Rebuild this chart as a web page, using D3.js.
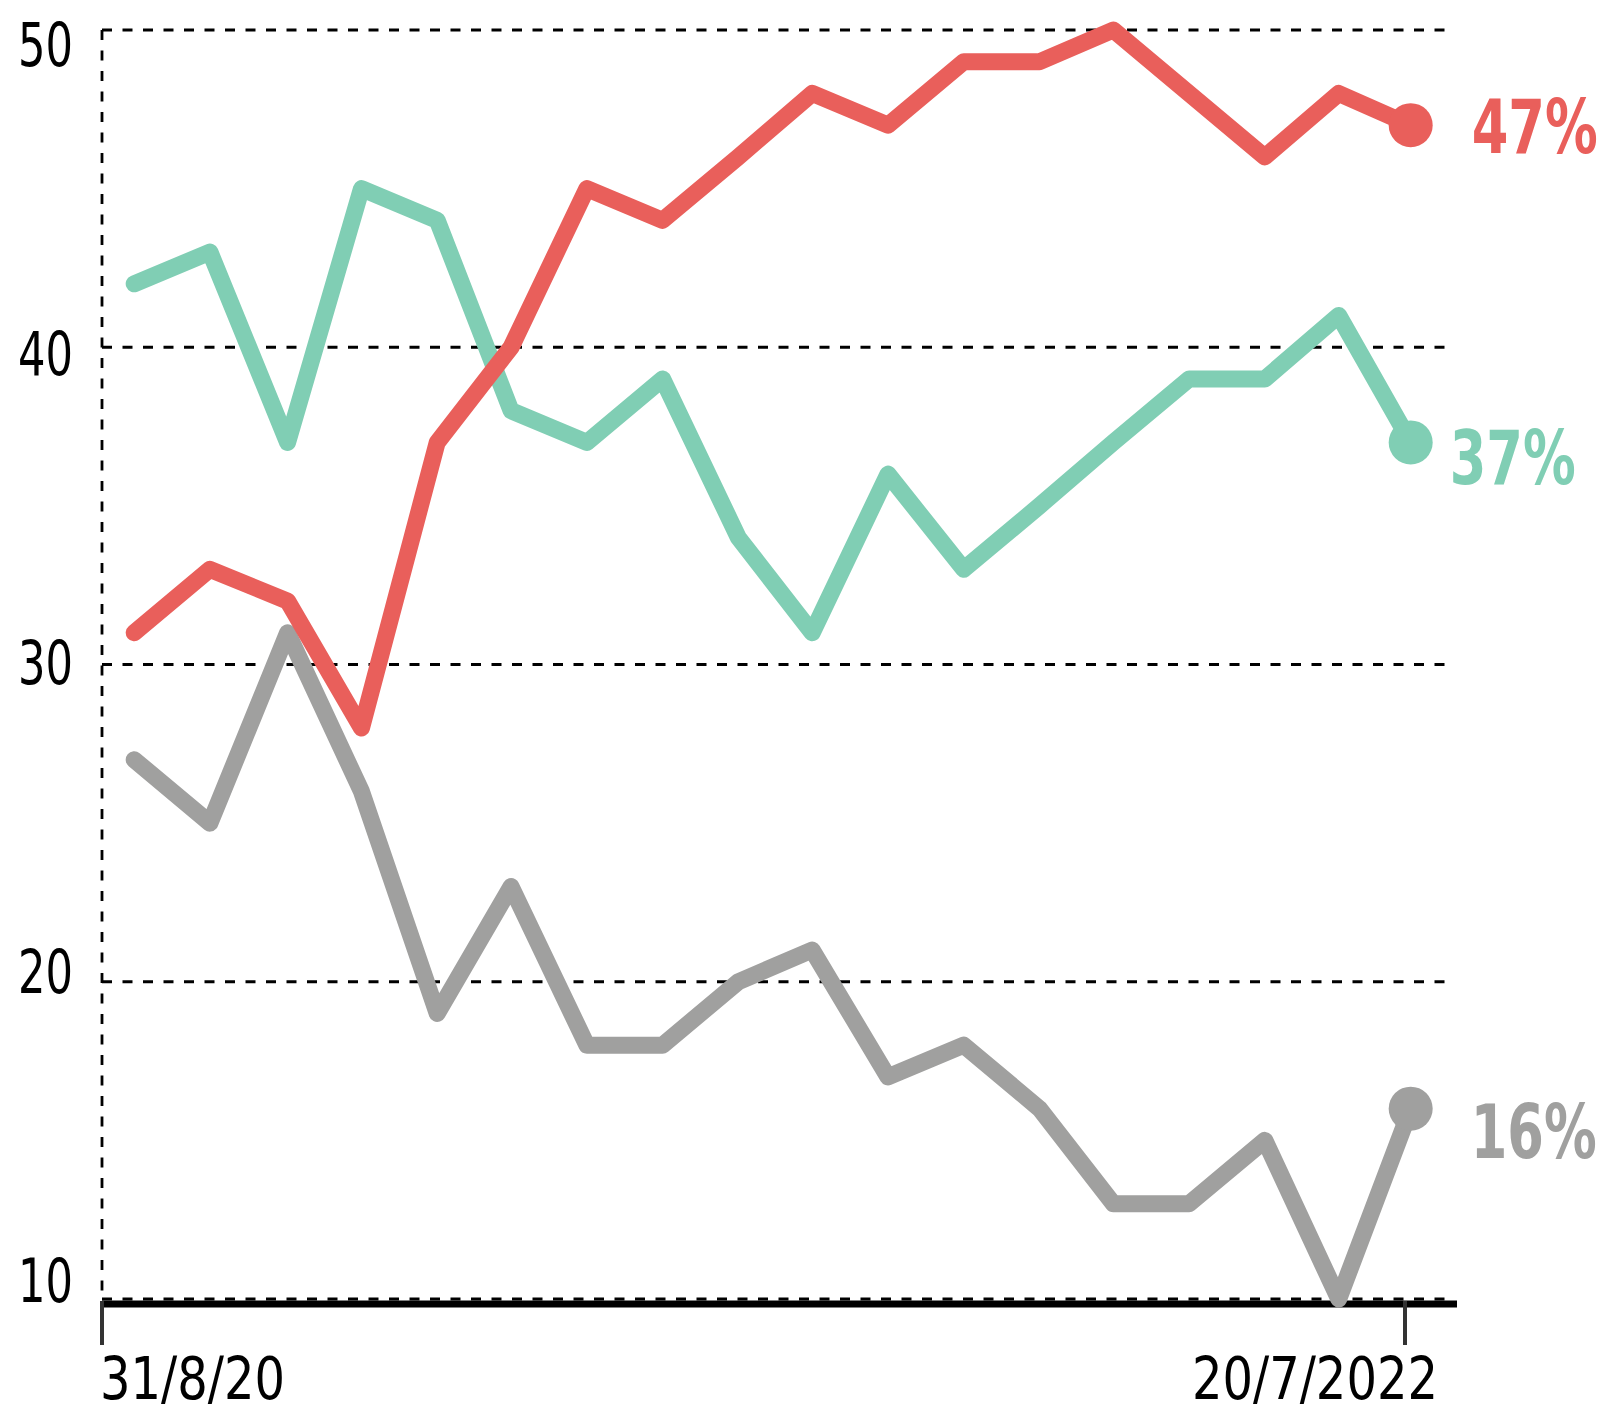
<!DOCTYPE html>
<html>
<head>
<meta charset="utf-8">
<script src="https://cdn.jsdelivr.net/npm/d3@7"></script>
<style>
  body { margin: 0; background: #fff; }
  text { font-family: "DejaVu Sans Condensed", "DejaVu Sans", sans-serif; }
</style>
</head>
<body>
<div id="chart"></div>
<script>
// poll dates (one per survey) and the three series, in percent
var pollDates = ["2020-09-17", "2020-10-27", "2020-12-07", "2021-01-15", "2021-02-24", "2021-04-04",
  "2021-05-14", "2021-06-23", "2021-08-02", "2021-09-10", "2021-10-20", "2021-11-29",
  "2022-01-08", "2022-02-16", "2022-03-28", "2022-05-07", "2022-06-15", "2022-07-23"];
var redValues   = [31, 33, 32, 28, 37, 40, 45, 44, 46, 48, 47, 49, 49, 50, 48, 46, 48, 47];
var greenValues = [42, 43, 37, 45, 44, 38, 37, 39, 34, 31, 36, 33, 35, 37, 39, 39, 41, 37];
var greyValues  = [27, 25, 31, 26, 19, 23, 18, 18, 20, 21, 17, 18, 16, 13, 13, 15, 10, 16];
var yTicks = [10, 20, 30, 40, 50];
var xTicks = ["2020-08-31", "2022-07-20"];
var xTickLabels = ["31/8/20", "20/7/2022"];

var width = 1603;
var height = 1415;
var left = 102;
var right = 1405;
var parse = d3.timeParse("%Y-%m-%d");

var svg = d3.select("#chart").
  append("svg").
  attr("width", width).
  attr("height", height);

var xScale = d3.scaleTime().
  domain([parse(xTicks[0]), parse(xTicks[1])]).
  range([left, right]);

var yScale = d3.scaleLinear().
  domain([10, 50]).
  range([1299, 30]);

// the tick numbers sit a bit closer together than the grid lines
var yLabelScale = d3.scaleLinear().
  domain([10, 50]).
  range([1280, 44]);

// the installed fonts are wider than the original condensed face, squeeze them
function squeeze(x, y, sx) {
  return "translate(" + x + "," + y + ") scale(" + sx + ",1)";
}

// dashed grid
svg.append("g").
  selectAll("line").
  data(yTicks).
  enter().
  append("line").
  attr("x1", left).
  attr("x2", 1452).
  attr("y1", function (d) {return yScale(d);}).
  attr("y2", function (d) {return yScale(d);}).
  style("stroke", "#000").
  style("stroke-width", 2.8).
  style("stroke-dasharray", "10,10.5");

svg.append("line").
  attr("x1", left).
  attr("x2", left).
  attr("y1", yScale(50)).
  attr("y2", yScale(10)).
  style("stroke", "#000").
  style("stroke-width", 2.8).
  style("stroke-dasharray", "10,10.5");

svg.append("g").
  selectAll("text").
  data(yTicks).
  enter().
  append("text").
  attr("transform", function (d) {return squeeze(left - 29, yLabelScale(d) + 22, 0.8);}).
  style("text-anchor", "end").
  style("font-size", "60px").
  style("fill", "#000").
  text(function (d) {return d;});

// base line and the two date ticks
svg.append("line").
  attr("x1", left).
  attr("x2", 1457).
  attr("y1", yScale(10) + 5).
  attr("y2", yScale(10) + 5).
  style("stroke", "#000").
  style("stroke-width", 7);

svg.append("g").
  selectAll("line").
  data(xTicks).
  enter().
  append("line").
  attr("x1", function (d) {return xScale(parse(d));}).
  attr("x2", function (d) {return xScale(parse(d));}).
  attr("y1", yScale(10) + 2).
  attr("y2", yScale(10) + 46).
  style("stroke", "#333").
  style("stroke-width", 4).
  style("stroke-linecap", "butt");

svg.append("g").
  selectAll("text").
  data(xTicks).
  enter().
  append("text").
  attr("transform", function (d, i) {
    return squeeze(xScale(parse(d)) + (i == 0 ? -2 : 33), 1399, 0.92);
  }).
  style("text-anchor", function (d, i) {return i == 0 ? "start" : "end";}).
  style("font-size", "58px").
  style("fill", "#000").
  text(function (d, i) {return xTickLabels[i];});

// lines, grey first so red ends up on top
var series = [
  {name: "grey", color: "#a0a09f", values: greyValues, dx: 60, dy: 22},
  {name: "green", color: "#80ceb4", values: greenValues, dx: 39, dy: 15},
  {name: "red", color: "#e95f5b", values: redValues, dx: 61, dy: 1}
];

var line = d3.line().
  x(function (d, i) {return xScale(parse(pollDates[i]));}).
  y(function (d) {return yScale(d);});

series.forEach(function (s) {
  var last = s.values.length - 1;
  var cx = xScale(parse(pollDates[last]));
  var cy = yScale(s.values[last]);

  svg.append("path").
    datum(s.values).
    attr("d", line).
    style("fill", "none").
    style("stroke", s.color).
    style("stroke-width", 17).
    style("stroke-linejoin", "round").
    style("stroke-linecap", "round");

  svg.append("circle").
    attr("cx", cx).
    attr("cy", cy).
    attr("r", 22).
    style("fill", s.color);

  svg.append("text").
    attr("transform", squeeze(cx + s.dx, cy + s.dy + 27, 0.78)).
    style("font-size", "75px").
    style("font-weight", "bold").
    style("fill", s.color).
    text(s.values[last] + "%");
});
</script>
</body>
</html>
